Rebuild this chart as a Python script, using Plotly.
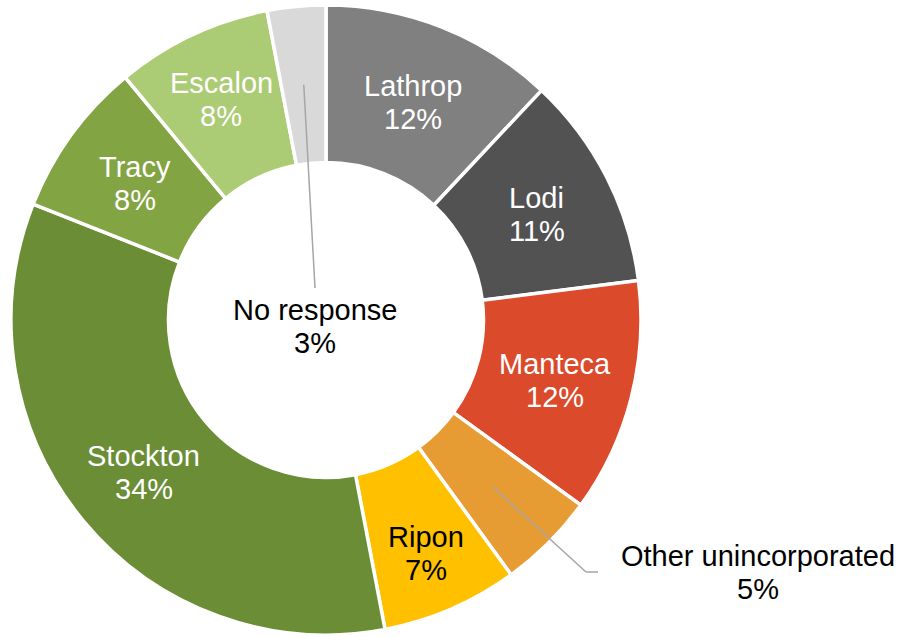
import math
import plotly.graph_objects as go

# Share of responses by community (percent), clockwise from 12 o'clock
communities = ["Lathrop", "Lodi", "Manteca", "Other unincorporated", "Ripon",
               "Stockton", "Tracy", "Escalon", "No response"]
shares = [12, 11, 12, 5, 7, 34, 8, 8, 3]

slice_colors = ["#808080", "#525252", "#DA4A2B", "#E79C33", "#FFC000",
                "#6A8D35", "#83A443", "#ACCB75", "#D9D9D9"]
label_colors = ["white", "white", "white", "black", "black",
                "white", "white", "white", "black"]

W, H = 908, 637
CX, CY = 326, 320          # donut centre in pixels
R_OUT = 315                # outer radius in pixels
HOLE = 0.5
R_MID = R_OUT * (1 + HOLE) / 2

# radial placement of in-ring labels (fraction of outer radius)
label_radius = {"Ripon": 0.80, "Escalon": 0.78}

FONT = "Liberation Sans, Arial, sans-serif"
FS = 29
LINE_GAP = 33              # baseline-to-baseline distance of the two label lines
LEADER = dict(color="#A6A6A6", width=1.5)


def px_to_paper(x, y):
    return x / W, 1 - y / H


def ring_point(angle_deg, r):
    a = math.radians(angle_deg)
    return CX + r * math.sin(a), CY - r * math.cos(a)


fig = go.Figure(go.Pie(
    labels=communities,
    values=shares,
    sort=False,
    direction="clockwise",
    rotation=0,
    hole=HOLE,
    marker=dict(colors=slice_colors, line=dict(color="white", width=3.5)),
    textinfo="none",
    hoverinfo="label+percent",
    domain=dict(x=[(CX - R_OUT) / W, (CX + R_OUT) / W],
                y=[1 - (CY + R_OUT) / H, 1 - (CY - R_OUT) / H]),
    showlegend=False,
))

total = sum(shares)
annotations, shapes = [], []


def add_leader(points):
    for (ax, ay), (bx, by) in zip(points[:-1], points[1:]):
        x0, y0 = px_to_paper(ax, ay)
        x1, y1 = px_to_paper(bx, by)
        shapes.append(dict(type="line", xref="paper", yref="paper",
                           x0=x0, y0=y0, x1=x1, y1=y1, line=LEADER))


def add_label(lines, cx, cy, color):
    n = len(lines)
    for i, txt in enumerate(lines):
        y = cy + (i - (n - 1) / 2) * LINE_GAP
        px, py = px_to_paper(cx, y)
        annotations.append(dict(
            x=px, y=py, xref="paper", yref="paper",
            text=txt, showarrow=False,
            xanchor="center", yanchor="middle",
            font=dict(family=FONT, size=FS, color=color),
        ))


cum = 0
for name, val, col in zip(communities, shares, label_colors):
    mid = (cum + val / 2) / total * 360
    cum += val
    pct = f"{round(val / total * 100)}%"
    if name == "No response":
        lx, ly = 315, 326
        add_leader([ring_point(mid, R_MID), (lx, ly - 38)])
    elif name == "Other unincorporated":
        lx, ly = 758, 572
        add_leader([ring_point(mid, R_MID), (586, 572), (598, 572)])
    else:
        r = label_radius.get(name, R_MID / R_OUT) * R_OUT
        lx, ly = ring_point(mid, r)
        ly += 2
    add_label([name, pct], lx, ly, col)

fig.update_layout(
    width=W, height=H,
    margin=dict(l=0, r=0, t=0, b=0),
    paper_bgcolor="white",
    plot_bgcolor="white",
    annotations=annotations,
    shapes=shapes,
)

fig.write_html("out.html")
